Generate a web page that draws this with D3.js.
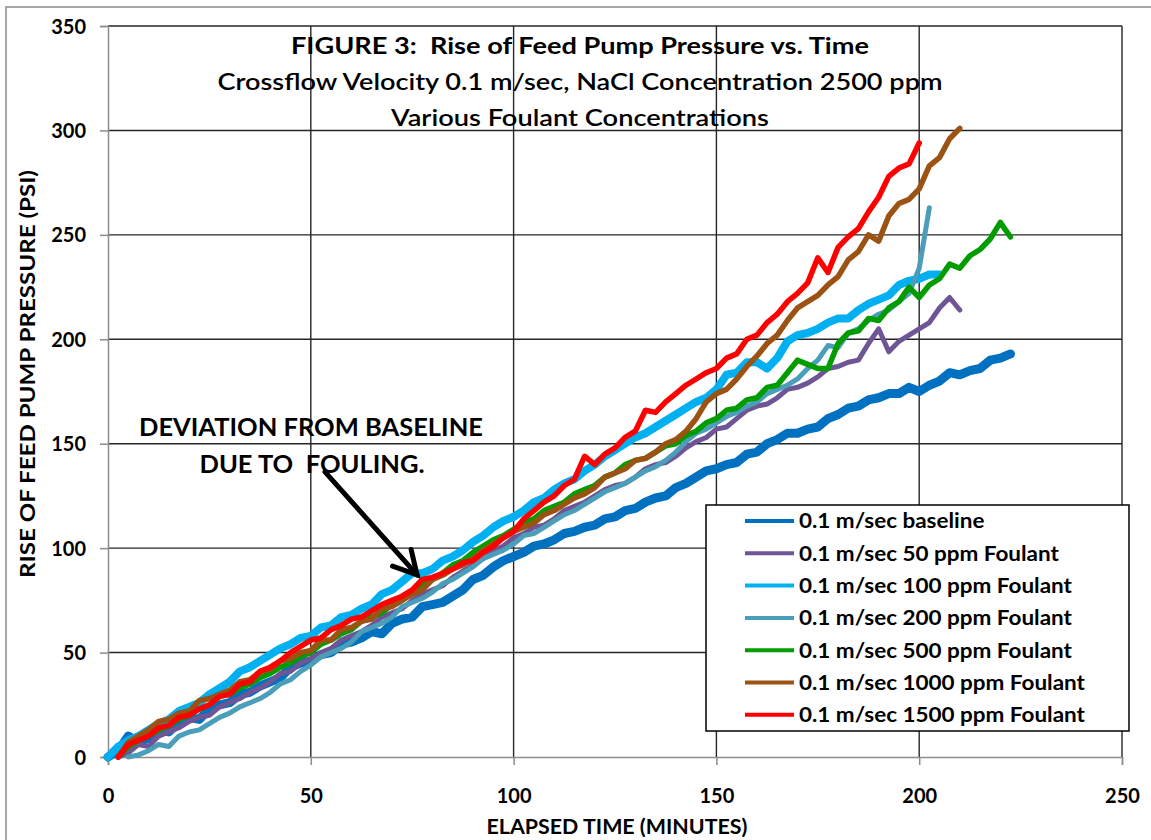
<!DOCTYPE html>
<html><head><meta charset="utf-8">
<script src="https://cdn.jsdelivr.net/npm/d3@7"></script>
<style>
body{margin:0;background:#fff}
svg{display:block}
text{font-family:Lato,"Open Sans",sans-serif;fill:#000}
</style>
</head><body>
<svg id="chart" width="1151" height="840"></svg>
<script>
// ---------- DATA ----------
const minutes = [0,2.5,5,7.5,10,12.5,15,17.5,20,22.5,
 25,27.5,30,32.5,35,37.5,40,42.5,45,47.5,
 50,52.5,55,57.5,60,62.5,65,67.5,70,72.5,
 75,77.5,80,82.5,85,87.5,90,92.5,95,97.5,
 100,102.5,105,107.5,110,112.5,115,117.5,120,122.5,
 125,127.5,130,132.5,135,137.5,140,142.5,145,147.5,
 150,152.5,155,157.5,160,162.5,165,167.5,170,172.5,
 175,177.5,180,182.5,185,187.5,190,192.5,195,197.5,
 200,202.5,205,207.5,210,212.5,215,217.5,220,222.5];

const baseline = [0,3,10,7,9,13,12,17,19,18,
 23,25,26,30,31,34,36,38,43,45,
 46,49,50,54,55,57,60,59,64,66,
 67,72,73,74,77,80,85,87,91,94,
 96,98,101,102,104,107,108,110,111,114,
 115,118,119,122,124,125,129,131,134,137,
 138,140,141,145,146,150,152,155,155,157,
 158,162,164,167,168,171,172,174,174,177,
 175,178,180,184,183,185,186,190,191,193];

const foulant50 = [null,0,2,6,5,10,12,14,17,19,
 20,24,26,28,31,33,36,40,41,45,
 47,50,52,56,58,60,63,67,69,71,
 75,78,80,82,86,89,92,95,99,101,
 105,107,110,111,114,118,120,122,125,128,
 130,131,134,138,140,141,144,148,151,153,
 157,158,162,166,168,169,172,176,177,179,
 182,186,187,189,190,198,205,194,199,202,
 205,208,215,220,214];

const foulant100 = [0,5,8,10,13,16,18,22,24,26,
 30,33,36,41,43,46,49,52,54,57,
 58,62,63,67,68,71,73,78,80,84,
 88,88,90,94,96,99,103,106,110,113,
 115,118,122,124,128,131,133,137,140,144,
 147,150,153,155,158,161,164,167,170,172,
 176,183,184,189,189,186,191,199,202,203,
 205,208,210,210,214,217,219,221,226,228,
 229,231,231];

const foulant200 = [null,null,0,1,3,6,5,10,12,13,
 16,19,21,24,26,28,31,35,37,41,
 44,48,50,52,55,60,62,64,67,72,
 74,76,79,83,85,88,91,95,97,99,
 102,106,107,110,113,116,118,121,124,127,
 129,131,134,137,139,142,146,151,155,157,
 160,163,165,168,170,174,176,178,181,186,
 190,197,196,203,205,209,212,214,218,222,
 234,263];

const foulant500 = [null,0,5,8,10,13,15,18,20,23,
 25,29,30,33,35,38,40,43,45,48,
 50,54,56,59,61,65,67,69,73,76,
 78,82,85,88,92,94,98,101,104,106,
 109,112,114,118,120,122,126,128,130,134,
 136,140,142,143,146,149,150,154,156,160,
 162,166,167,171,172,177,178,184,190,188,
 186,186,198,203,204,210,209,215,218,225,
 220,226,229,236,234,240,243,248,256,249];

const foulant1000 = [null,0,7,10,13,17,18,21,22,27,
 28,30,32,36,37,41,42,46,47,50,
 51,56,56,61,62,65,66,71,72,75,
 78,80,85,87,90,92,95,99,102,105,
 108,110,112,116,118,121,124,126,129,134,
 136,138,142,143,146,150,152,156,162,170,
 174,176,181,187,192,198,202,209,215,218,
 221,226,230,238,242,250,247,259,265,267,
 272,283,287,296,301];

const foulant1500 = [null,0,6,8,10,14,15,19,20,23,
 25,29,30,35,36,41,43,46,50,53,
 56,57,61,63,66,67,70,73,75,77,
 80,85,86,88,90,93,94,98,101,105,
 108,114,118,122,125,130,133,144,140,145,
 148,153,156,166,165,170,174,178,181,184,
 186,191,193,200,202,208,212,218,222,227,
 239,232,244,249,253,261,268,278,282,284,
 294];

const seriesNames = ["0.1 m/sec baseline","0.1 m/sec 50 ppm Foulant","0.1 m/sec 100 ppm Foulant",
 "0.1 m/sec 200 ppm Foulant","0.1 m/sec 500 ppm Foulant","0.1 m/sec 1000 ppm Foulant","0.1 m/sec 1500 ppm Foulant"];
const seriesValues = [baseline,foulant50,foulant100,foulant200,foulant500,foulant1000,foulant1500];

const xTicks = [0,50,100,150,200,250];
const yTicks = [0,50,100,150,200,250,300,350];
const titleLines = ["FIGURE 3:  Rise of Feed Pump Pressure vs. Time",
 "Crossflow Velocity 0.1 m/sec, NaCl Concentration 2500 ppm",
 "Various Foulant Concentrations"];
const xTitle = "ELAPSED TIME (MINUTES)";
const yTitle = "RISE OF FEED PUMP PRESSURE (PSI)";
const noteLines = ["DEVIATION FROM BASELINE","DUE TO  FOULING."];
const arrowFrom = [53.5,136.5], arrowTo = [76.2,87.2];

// ---------- STYLES ----------
const colors = ["#0070C0","#6E5596","#00B0F0","#4A9EBA","#009C00","#9C5212","#FF0000"];
const widths = [9,5,8,5,5.5,5.5,5.5];
const titleWidths = [578,725,378];
const noteWidths = [344,225];

// ---------- CHART ----------
const svg = d3.select("#chart");
const L=108,R=1122,T=26,B=757;
const x = d3.scaleLinear().domain([0,250]).range([L,R]);
const y = d3.scaleLinear().domain([0,350]).range([B,T]);

// outer border
svg.append("rect").attr("x",6).attr("y",7).attr("width",1200).attr("height",900)
 .attr("fill","#fff").attr("stroke","#8a8a8a").attr("stroke-width",1.5);

// grid
const g = svg.append("g");
g.selectAll(".hg").data(yTicks.filter(v=>v>0)).join("line")
 .attr("x1",L).attr("x2",R).attr("y1",d=>y(d)).attr("y2",d=>y(d))
 .attr("stroke","#262626").attr("stroke-width",1.4);
g.selectAll(".vg").data(xTicks.filter(v=>v>0)).join("line")
 .attr("y1",T).attr("y2",B).attr("x1",d=>x(d)).attr("x2",d=>x(d))
 .attr("stroke","#262626").attr("stroke-width",1.4);

// axes
const yAxis = svg.append("g").attr("transform",`translate(${L},0)`)
 .call(d3.axisLeft(y).tickValues(yTicks).tickSize(8).tickPadding(14));
const xAxis = svg.append("g").attr("transform",`translate(0,${B})`)
 .call(d3.axisBottom(x).tickValues(xTicks).tickSize(8).tickPadding(24));
[yAxis,xAxis].forEach(a=>{
  a.select(".domain").attr("stroke","#8c8c8c").attr("stroke-width",1.5);
  a.selectAll(".tick line").attr("stroke","#8c8c8c").attr("stroke-width",1.5);
  a.selectAll(".tick text").attr("font-family","Lato").attr("font-size",20)
   .attr("font-weight",700).attr("fill","#000");
});
yAxis.selectAll(".tick text").attr("dy","0.35em");

// series
const line = d3.line().defined(d=>d[1]!=null).x(d=>x(d[0])).y(d=>y(d[1]));
seriesValues.forEach((vals,i)=>{
  const pts = vals.map((v,j)=>[minutes[j],v]);
  svg.append("path").datum(pts).attr("d",line).attr("fill","none")
   .attr("stroke",colors[i]).attr("stroke-width",widths[i])
   .attr("stroke-linejoin","round").attr("stroke-linecap","round");
});

// title
titleLines.forEach((t,i)=>{
  svg.append("text").attr("x",580).attr("y",54+36*i).attr("text-anchor","middle")
   .attr("font-size",23).attr("font-weight",i===0?700:600)
   .attr("textLength",titleWidths[i]).attr("lengthAdjust","spacingAndGlyphs")
   .style("white-space","pre").text(t);
});

// axis titles
svg.append("text").attr("x",617).attr("y",834).attr("text-anchor","middle")
 .attr("font-size",20).attr("font-weight",700)
 .attr("textLength",261).attr("lengthAdjust","spacingAndGlyphs").text(xTitle);
svg.append("text").attr("transform","translate(35,374) rotate(-90)").attr("text-anchor","middle")
 .attr("font-size",20).attr("font-weight",700)
 .attr("textLength",408).attr("lengthAdjust","spacingAndGlyphs").text(yTitle);

// annotation
noteLines.forEach((t,i)=>{
  svg.append("text").attr("x",i===0?311:312).attr("y",436+37*i).attr("text-anchor","middle")
   .attr("font-size",25).attr("font-weight",700)
   .attr("textLength",noteWidths[i]).attr("lengthAdjust","spacingAndGlyphs")
   .style("white-space","pre").text(t);
});
const ax0=x(arrowFrom[0]), ay0=y(arrowFrom[1]), ax1=x(arrowTo[0]), ay1=y(arrowTo[1]);
svg.append("line").attr("x1",ax0).attr("y1",ay0).attr("x2",ax1).attr("y2",ay1)
 .attr("stroke","#000").attr("stroke-width",5).attr("stroke-linecap","round");
const ang = Math.atan2(ay0-ay1, ax0-ax1);
const barb = [-0.5,0.5].map(s=>[ax1+26*Math.cos(ang+s), ay1+26*Math.sin(ang+s)]);
svg.append("path").attr("d",`M${barb[0]}L${ax1},${ay1}L${barb[1]}`)
 .attr("fill","none").attr("stroke","#000").attr("stroke-width",5)
 .attr("stroke-linecap","round").attr("stroke-linejoin","miter");

// legend
const lg = svg.append("g");
lg.append("rect").attr("x",706).attr("y",505).attr("width",423).attr("height",226)
 .attr("fill","#fff").attr("stroke","#000").attr("stroke-width",1.5);
seriesNames.forEach((n,i)=>{
  const cy = 521+32.3*i;
  lg.append("line").attr("x1",745).attr("x2",794).attr("y1",cy).attr("y2",cy)
   .attr("stroke",colors[i]).attr("stroke-width",4);
  const t = lg.append("text").attr("x",799).attr("y",cy).attr("dy","0.35em")
   .attr("font-size",21).attr("font-weight",700).text(n);
  const w = t.node().getComputedTextLength();
  t.attr("textLength",w*1.07).attr("lengthAdjust","spacingAndGlyphs");
});
</script>
</body></html>
